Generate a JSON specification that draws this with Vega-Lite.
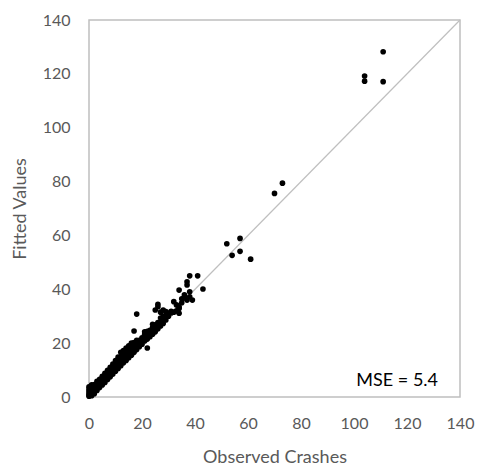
{
  "$schema": "https://vega.github.io/schema/vega-lite/v6.json",
  "width": 371,
  "height": 377,
  "autosize": "none",
  "padding": {"left": 89, "top": 20, "right": 20, "bottom": 75},
  "config": {
    "view": {"stroke": "#bfbfbf", "strokeWidth": 1.5},
    "font": "Lato",
    "axis": {
      "ticks": false,
      "domain": false,
      "grid": false,
      "labelFlush": false,
      "labelOverlap": false,
      "labelFontSize": 16,
      "labelColor": "#595959",
      "titleFontSize": 18,
      "titleColor": "#595959",
      "titleFontWeight": "normal",
      "labelFont": "Lato",
      "titleFont": "Lato"
    }
  },
  "data": {
    "values": [
      {"obs":0,"fit":0.3},{"obs":0,"fit":0.8},{"obs":0,"fit":1.5},{"obs":0,"fit":2.2},{"obs":0,"fit":3.0},{"obs":0,"fit":3.8},
      {"obs":1,"fit":0.5},{"obs":1,"fit":1.2},{"obs":1,"fit":2.0},{"obs":1,"fit":2.8},{"obs":1,"fit":3.6},{"obs":1,"fit":4.5},
      {"obs":2,"fit":1.2},{"obs":2,"fit":2.0},{"obs":2,"fit":2.9},{"obs":2,"fit":3.7},{"obs":2,"fit":4.6},
      {"obs":3,"fit":2.4},{"obs":3,"fit":3.2},{"obs":3,"fit":4.0},{"obs":3,"fit":4.9},{"obs":3,"fit":5.8},
      {"obs":4,"fit":3.5},{"obs":4,"fit":4.3},{"obs":4,"fit":5.1},{"obs":4,"fit":5.9},{"obs":4,"fit":6.6},
      {"obs":5,"fit":4.5},{"obs":5,"fit":5.3},{"obs":5,"fit":6.1},{"obs":5,"fit":6.9},{"obs":5,"fit":7.7},
      {"obs":6,"fit":5.4},{"obs":6,"fit":6.3},{"obs":6,"fit":7.1},{"obs":6,"fit":7.9},{"obs":6,"fit":8.8},
      {"obs":7,"fit":6.5},{"obs":7,"fit":7.3},{"obs":7,"fit":8.2},{"obs":7,"fit":9.0},{"obs":7,"fit":9.9},
      {"obs":8,"fit":7.5},{"obs":8,"fit":8.4},{"obs":8,"fit":9.3},{"obs":8,"fit":10.2},{"obs":8,"fit":11.0},
      {"obs":9,"fit":8.5},{"obs":9,"fit":9.4},{"obs":9,"fit":10.4},{"obs":9,"fit":11.3},{"obs":9,"fit":12.2},
      {"obs":10,"fit":9.6},{"obs":10,"fit":10.5},{"obs":10,"fit":11.5},{"obs":10,"fit":12.5},{"obs":10,"fit":13.5},
      {"obs":11,"fit":10.6},{"obs":11,"fit":11.6},{"obs":11,"fit":12.6},{"obs":11,"fit":13.7},{"obs":11,"fit":14.8},
      {"obs":12,"fit":11.6},{"obs":12,"fit":12.7},{"obs":12,"fit":13.8},{"obs":12,"fit":15.0},{"obs":12,"fit":16.6},
      {"obs":13,"fit":12.7},{"obs":13,"fit":13.8},{"obs":13,"fit":14.9},{"obs":13,"fit":16.0},{"obs":13,"fit":17.2},
      {"obs":14,"fit":13.6},{"obs":14,"fit":14.8},{"obs":14,"fit":15.9},{"obs":14,"fit":17.0},{"obs":14,"fit":18.2},
      {"obs":15,"fit":14.6},{"obs":15,"fit":15.9},{"obs":15,"fit":17.0},{"obs":15,"fit":18.1},{"obs":15,"fit":19.0},
      {"obs":16,"fit":15.5},{"obs":16,"fit":16.8},{"obs":16,"fit":18.0},{"obs":16,"fit":19.2},{"obs":16,"fit":20.0},
      {"obs":17,"fit":16.6},{"obs":17,"fit":17.9},{"obs":17,"fit":19.1},{"obs":17,"fit":20.2},{"obs":17,"fit":24.5},
      {"obs":18,"fit":17.6},{"obs":18,"fit":18.9},{"obs":18,"fit":20.2},{"obs":18,"fit":21.0},{"obs":18,"fit":30.8},
      {"obs":19,"fit":18.7},{"obs":19,"fit":19.9},{"obs":19,"fit":21.0},
      {"obs":20,"fit":19.6},{"obs":20,"fit":20.8},{"obs":20,"fit":22.0},
      {"obs":21,"fit":20.8},{"obs":21,"fit":22.0},{"obs":21,"fit":23.3},{"obs":21,"fit":24.2},
      {"obs":22,"fit":18.2},{"obs":22,"fit":21.5},{"obs":22,"fit":23.0},{"obs":22,"fit":24.4},
      {"obs":23,"fit":22.4},{"obs":23,"fit":23.6},{"obs":23,"fit":24.8},
      {"obs":24,"fit":23.3},{"obs":24,"fit":24.6},{"obs":24,"fit":25.8},{"obs":24,"fit":27.0},
      {"obs":25,"fit":24.2},{"obs":25,"fit":25.5},{"obs":25,"fit":26.8},{"obs":25,"fit":32.3},
      {"obs":26,"fit":25.3},{"obs":26,"fit":26.6},{"obs":26,"fit":27.6},{"obs":26,"fit":33.5},{"obs":26,"fit":34.4},
      {"obs":27,"fit":26.4},{"obs":27,"fit":27.8},{"obs":27,"fit":29.3},{"obs":27,"fit":31.5},
      {"obs":28,"fit":27.3},{"obs":28,"fit":28.6},{"obs":28,"fit":30.0},{"obs":28,"fit":32.3},
      {"obs":29,"fit":28.6},{"obs":29,"fit":30.2},{"obs":29,"fit":31.7},
      {"obs":30,"fit":30.0},{"obs":30,"fit":31.2},
      {"obs":31,"fit":31.2},{"obs":31,"fit":31.8},
      {"obs":32,"fit":35.4},{"obs":32,"fit":31.5},
      {"obs":33,"fit":34.2},{"obs":33,"fit":32.0},
      {"obs":34,"fit":31.1},{"obs":34,"fit":33.5},{"obs":34,"fit":32.9},{"obs":34,"fit":39.7},
      {"obs":35,"fit":36.5},{"obs":35,"fit":35.0},
      {"obs":36,"fit":37.9},{"obs":36,"fit":36.8},
      {"obs":37,"fit":42.8},{"obs":37,"fit":41.6},{"obs":37,"fit":36.0},
      {"obs":38,"fit":45.0},{"obs":38,"fit":39.1},{"obs":38,"fit":37.2},
      {"obs":39,"fit":36.0},
      {"obs":41,"fit":45.0},
      {"obs":43,"fit":40.1},
      {"obs":52,"fit":56.9},
      {"obs":54,"fit":52.6},
      {"obs":57,"fit":58.9},{"obs":57,"fit":54.1},
      {"obs":61,"fit":51.2},
      {"obs":70,"fit":75.6},
      {"obs":73,"fit":79.4},
      {"obs":104,"fit":119.2},{"obs":104,"fit":117.3},
      {"obs":111,"fit":128.2},{"obs":111,"fit":117.1}
    ]
  },
  "encoding": {
    "x": {
      "field": "obs", "type": "quantitative",
      "scale": {"domain": [0, 140], "nice": false},
      "axis": {"title": "Observed Crashes", "values": [0,20,40,60,80,100,120,140], "labelPadding": 18, "titlePadding": 17}
    },
    "y": {
      "field": "fit", "type": "quantitative",
      "scale": {"domain": [0, 140], "nice": false},
      "axis": {"title": "Fitted Values", "values": [0,20,40,60,80,100,120,140], "labelPadding": 19, "titlePadding": 13}
    }
  },
  "layer": [
    {
      "data": {"values": [{"obs": 0, "fit": 0, "obs2": 140, "fit2": 140}]},
      "mark": {"type": "rule", "color": "#bfbfbf", "strokeWidth": 1.2},
      "encoding": {"x2": {"field": "obs2"}, "y2": {"field": "fit2"}}
    },
    {
      "mark": {"type": "circle", "size": 32, "color": "#000000", "opacity": 1}
    },
    {
      "data": {"values": [{"obs": 116.3, "fit": 6, "label": "MSE = 5.4"}]},
      "mark": {"type": "text", "fontSize": 18, "color": "#000000", "align": "center", "baseline": "middle", "font": "Lato"},
      "encoding": {"text": {"field": "label"}}
    }
  ]
}
